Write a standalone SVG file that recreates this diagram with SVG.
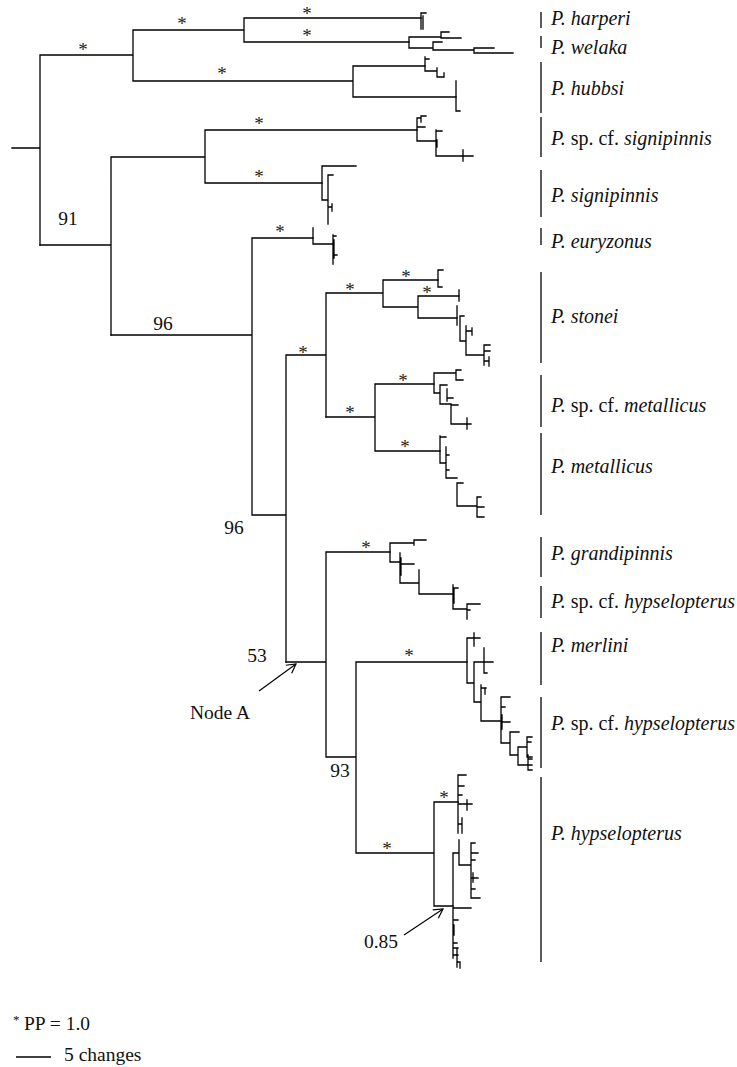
<svg xmlns="http://www.w3.org/2000/svg" width="737" height="1067" viewBox="0 0 737 1067">
<style>
.br{stroke:#000;stroke-width:1.3;fill:none;stroke-linecap:square}
.bar{stroke:#333;stroke-width:1.6}
.sp{font-family:"Liberation Serif",serif;font-size:20px;fill:#111}
.it{font-style:italic}
.num{font-family:"Liberation Serif",serif;font-size:19.5px;fill:#111}
.ast{font-family:"Liberation Serif",serif;font-size:19px;fill:#222;text-anchor:middle}
</style>
<defs>
<marker id="arr" markerWidth="12" markerHeight="12" refX="10" refY="6" orient="auto" markerUnits="userSpaceOnUse">
<path d="M1,1 L10,6 L1,11" fill="none" stroke="#000" stroke-width="1.2"/>
</marker>
</defs>
<rect width="737" height="1067" fill="#fff"/>

<g id="connectors" class="br">
<path d="M12,148 H40 M40,55 V245 M40,55 H133 M133,30 V81 M133,30 H244 M244,18 V42 M244,18 H421 M244,42 H409 M133,81 H353 M353,66 V97 M353,66 H425 M353,97 H456"/>
<path d="M40,245 H111 M111,157 V335 M111,157 H205 M205,130 V183 M205,130 H417 M205,183 H322"/>
<path d="M111,335 H252 M252,238 V515 M252,238 H313 M252,515 H286 M286,355 V662 M286,355 H326 M326,293 V417 M326,293 H383 M383,280 V307 M383,280 H438 M383,307 H418 M418,296 V318 M418,296 H459 M418,318 H457"/>
<path d="M326,417 H375 M375,384 V451 M375,384 H434 M375,451 H440"/>
<path d="M286,662 H326 M326,552 V757 M326,552 H390 M326,757 H356 M356,662 V853 M356,662 H467 M356,853 H434 M434,802 V906 M434,802 H458 M434,906 H453"/>
</g>

<g id="tips-harperi" class="br"><path d="M421,13 V29 M421,13 H426 M423,16 V29"/></g>
<g id="tips-welaka" class="br"><path d="M409,37 V48 M409,37 H441 M441,32 V38 M441,32 H449 M441,38 H461 M409,48 H433 M433,42 V50 M433,42 H442 M433,50 H474 M474,48 V53 M474,48 H494 M474,53 H513"/></g>
<g id="tips-hubbsi" class="br"><path d="M425,57 V71 M425,59 H429 M425,71 H437 M437,68 V77 M437,77 H444 M444,73 V77 M456,81 V111 M456,111 H460"/></g>
<g id="tips-spcf-signipinnis" class="br"><path d="M417,118 V141 M417,118 H421 M421,116 V122 M421,116 H426 M417,127 H425 M417,141 H436 M436,130 V156 M436,131 H442 M437,140 V147 M436,156 H473 M463,150 V161"/></g>
<g id="tips-signipinnis" class="br"><path d="M322,166 V200 M322,166 H356 M322,200 H328 M328,175 V224 M328,175 H333 M328,207 H332 M332,204 V211"/></g>
<g id="tips-euryzonus" class="br"><path d="M313,228 V244 M313,244 H333 M333,235 V264 M334,240 V258 M333,236 H336 M333,255 H337"/></g>
<g id="tips-stonei" class="br"><path d="M438,270 V287 M438,270 H443 M438,287 H442 M459,290 V301 M457,306 V325 M460,316 V341 M460,316 H464 M460,341 H466 M466,326 V355 M466,331 H472 M472,328 V335 M466,355 H484 M484,345 V365 M484,345 H490 M484,351 H490 M484,361 H488 M489,357 V366"/></g>
<g id="tips-spcf-metallicus" class="br"><path d="M434,373 V393 M434,373 H456 M456,370 V380 M456,370 H461 M456,380 H463 M434,393 H440 M440,385 V404 M440,385 H447 M447,389 V401 M447,398 H453 M440,404 H451 M451,405 V424 M451,405 H458 M451,424 H471 M467,418 V429"/></g>
<g id="tips-metallicus" class="br"><path d="M440,436 V463 M440,437 H446 M440,463 H446 M446,447 V478 M446,455 H449 M446,470 H449 M446,478 H457 M457,483 V506 M457,483 H463 M457,506 H477 M477,497 V517 M477,497 H481 M477,507 H484 M477,517 H484"/></g>
<g id="tips-grandipinnis" class="br"><path d="M390,543 V562 M390,543 H414 M414,540 V545 M414,540 H426 M390,562 H400 M400,553 V583 M401,558 V575 M400,564 H414 M400,583 H419 M419,570 V594 M419,594 H453 M453,585 V609 M454,588 V603 M453,588 H458 M453,609 H467 M467,604 V619 M467,604 H480 M467,610 H470"/></g>
<g id="tips-merlini" class="br"><path d="M467,638 V683 M467,638 H480 M474,633 V646 M467,683 H474 M474,662 V702 M474,662 H487 M484,648 V673 M484,662 H493 M484,673 H487 M474,702 H481 M481,685 V721 M481,688 H486 M485,688 V694 M481,721 H501 M501,697 V743 M501,697 H510 M501,707 H505 M502,715 V729 M501,722 H510 M501,743 H510 M510,732 V755 M510,732 H519 M510,755 H518 M518,747 V765 M518,747 H527 M527,737 V757 M527,737 H532 M527,742 H531 M527,757 H532 M518,765 H528 M528,755 V770 M528,759 H532 M528,765 H532 M528,770 H532"/></g>
<g id="tips-hypselopterus" class="br"><path d="M458,775 V833 M458,775 H466 M458,786 H464 M458,795 H462 M458,804 H472 M467,800 V810 M458,824 H462 M462,818 V833 M453,853 V958 M453,853 H459 M459,840 V865 M459,865 H471 M471,843 V898 M471,843 H475 M471,853 H478 M471,860 H475 M473,873 V882 M471,878 H478 M471,889 H475 M471,898 H480 M453,908 H471 M453,920 H458 M454,925 V935 M453,943 H457 M453,948 H458 M453,955 H458 M457,948 V967 M457,962 H460 M460,962 V968"/></g>

<g id="support-values">
<text class="ast" x="83" y="56">*</text>
<text class="ast" x="182" y="30">*</text>
<text class="ast" x="307" y="20">*</text>
<text class="ast" x="307" y="42">*</text>
<text class="ast" x="222" y="80">*</text>
<text class="ast" x="259" y="130">*</text>
<text class="ast" x="259" y="183">*</text>
<text class="ast" x="280" y="238">*</text>
<text class="ast" x="303" y="359">*</text>
<text class="ast" x="350" y="296">*</text>
<text class="ast" x="406" y="283">*</text>
<text class="ast" x="427" y="299">*</text>
<text class="ast" x="350" y="419">*</text>
<text class="ast" x="403" y="387">*</text>
<text class="ast" x="405" y="453">*</text>
<text class="ast" x="366" y="554">*</text>
<text class="ast" x="409" y="662">*</text>
<text class="ast" x="387" y="855">*</text>
<text class="ast" x="444" y="804">*</text>
<text class="num" x="68" y="225" text-anchor="middle">91</text>
<text class="num" x="163" y="330" text-anchor="middle">96</text>
<text class="num" x="234" y="534" text-anchor="middle">96</text>
<text class="num" x="257" y="662" text-anchor="middle">53</text>
<text class="num" x="340" y="777" text-anchor="middle">93</text>
<text class="num" x="381" y="948" text-anchor="middle">0.85</text>
</g>

<g id="node-a">
<text class="num" x="250" y="719" text-anchor="end">Node A</text>
<line x1="259" y1="691" x2="296" y2="664" stroke="#000" stroke-width="1.2" marker-end="url(#arr)"/>
</g>
<g id="node-085">
<line x1="404" y1="935" x2="443" y2="909" stroke="#000" stroke-width="1.2" marker-end="url(#arr)"/>
</g>

<g id="label-harperi"><line class="bar" x1="541" y1="12" x2="541" y2="28"/><text class="sp it" x="551" y="25">P. harperi</text></g>
<g id="label-welaka"><line class="bar" x1="541" y1="36" x2="541" y2="48"/><text class="sp it" x="551" y="54">P. welaka</text></g>
<g id="label-hubbsi"><line class="bar" x1="541" y1="62" x2="541" y2="113"/><text class="sp it" x="551" y="95">P. hubbsi</text></g>
<g id="label-spcf-signipinnis"><line class="bar" x1="541" y1="117" x2="541" y2="157"/><text class="sp" x="551" y="145"><tspan class="it">P.</tspan> sp. cf. <tspan class="it">signipinnis</tspan></text></g>
<g id="label-signipinnis"><line class="bar" x1="541" y1="170" x2="541" y2="217"/><text class="sp it" x="551" y="202">P. signipinnis</text></g>
<g id="label-euryzonus"><line class="bar" x1="541" y1="228" x2="541" y2="245"/><text class="sp it" x="551" y="248">P. euryzonus</text></g>
<g id="label-stonei"><line class="bar" x1="541" y1="272" x2="541" y2="363"/><text class="sp it" x="551" y="323">P. stonei</text></g>
<g id="label-spcf-metallicus"><line class="bar" x1="541" y1="375" x2="541" y2="427"/><text class="sp" x="551" y="412"><tspan class="it">P.</tspan> sp. cf. <tspan class="it">metallicus</tspan></text></g>
<g id="label-metallicus"><line class="bar" x1="541" y1="433" x2="541" y2="515"/><text class="sp it" x="551" y="473">P. metallicus</text></g>
<g id="label-grandipinnis"><line class="bar" x1="541" y1="537" x2="541" y2="577"/><text class="sp it" x="551" y="560">P. grandipinnis</text></g>
<g id="label-spcf-hypselopterus-1"><line class="bar" x1="541" y1="586" x2="541" y2="618"/><text class="sp" x="551" y="608"><tspan class="it">P.</tspan> sp. cf. <tspan class="it">hypselopterus</tspan></text></g>
<g id="label-merlini"><line class="bar" x1="541" y1="632" x2="541" y2="685"/><text class="sp it" x="551" y="652">P. merlini</text></g>
<g id="label-spcf-hypselopterus-2"><line class="bar" x1="541" y1="697" x2="541" y2="768"/><text class="sp" x="551" y="730"><tspan class="it">P.</tspan> sp. cf. <tspan class="it">hypselopterus</tspan></text></g>
<g id="label-hypselopterus"><line class="bar" x1="541" y1="777" x2="541" y2="962"/><text class="sp it" x="551" y="840">P. hypselopterus</text></g>

<g id="legend">
<text class="num" x="13" y="1024" style="font-size:13px">*</text>
<text class="num" x="24" y="1030">PP = 1.0</text>
<line x1="16" y1="1057" x2="51" y2="1057" stroke="#000" stroke-width="1.3"/>
<text class="num" x="64" y="1061">5 changes</text>
</g>
</svg>
